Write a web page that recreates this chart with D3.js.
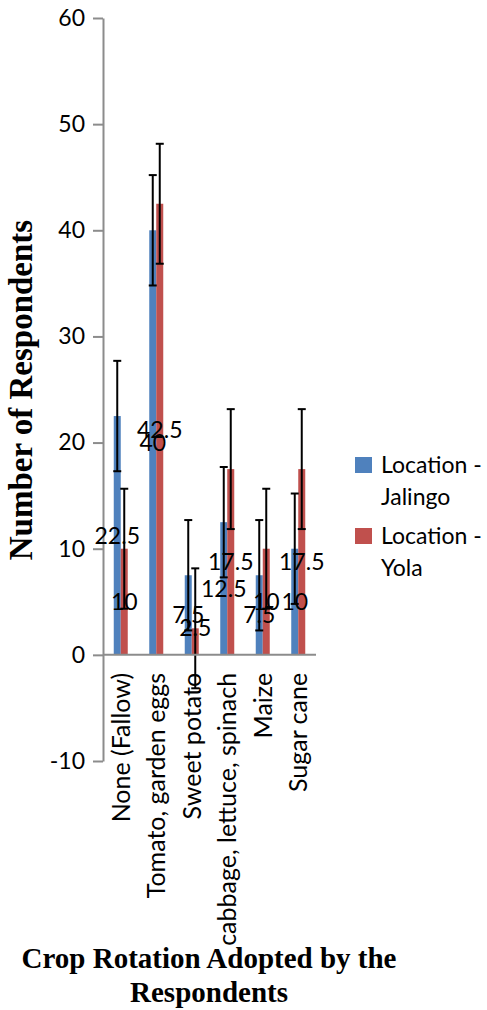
<!DOCTYPE html>
<html>
<head>
<meta charset="utf-8">
<script src="https://cdn.jsdelivr.net/npm/d3@7"></script>
<style>
  body { margin: 0; background: #fff; }
  text { font-family: Lato, "Open Sans", sans-serif; }
</style>
</head>
<body>
<script>
const categories = ["None (Fallow)", "Tomato, garden eggs", "Sweet potato",
  "cabbage, lettuce, spinach", "Maize", "Sugar cane"];
const seriesNames = ["Location - Jalingo", "Location - Yola"];
const jalingo = [22.5, 40, 7.5, 12.5, 7.5, 10];
const yola = [10, 42.5, 2.5, 17.5, 10, 17.5];
const jalingoErr = [5.2, 5.2, 5.2, 5.2, 5.2, 5.2];
const yolaErr = [5.65, 5.65, 5.65, 5.65, 5.65, 5.65];
const yTicks = [-10, 0, 10, 20, 30, 40, 50, 60];
const colors = ["#4F81BD", "#C0504D"];

const totalWidth = 487, totalHeight = 1010;
const plot = { left: 103, right: 316, top: 18, bottom: 761 };

const svg = d3.select("body").append("svg")
  .attr("width", totalWidth)
  .attr("height", totalHeight);

const yScale = d3.scaleLinear().domain([-10, 60]).range([plot.bottom, plot.top]);
const xScale = d3.scaleBand().domain(categories).range([plot.left, plot.right]);
const inner = d3.scaleBand().domain([0, 1])
  .range([xScale.bandwidth() / 2 - 7, xScale.bandwidth() / 2 + 7]);

const rows = categories.map((c, i) => ({
  cat: c,
  vals: [
    { s: 0, v: jalingo[i], e: jalingoErr[i] },
    { s: 1, v: yola[i], e: yolaErr[i] }
  ]
}));

// y axis
const yAxis = svg.append("g")
  .attr("transform", `translate(${plot.left},0)`)
  .call(d3.axisLeft(yScale).tickValues(yTicks).tickFormat(d => String(d))
    .tickSize(10).tickPadding(8).tickSizeOuter(0));
yAxis.select(".domain").attr("stroke", "#8c8c8c").attr("stroke-width", 2);
yAxis.selectAll(".tick line").attr("stroke", "#8c8c8c").attr("stroke-width", 2);
yAxis.selectAll(".tick text").attr("font-size", 23).attr("fill", "#000")
  .style("font-family", "Lato, sans-serif");

// bars
const groups = svg.selectAll(".grp").data(rows).enter().append("g")
  .attr("transform", d => `translate(${xScale(d.cat)},0)`);

groups.selectAll("rect").data(d => d.vals).enter().append("rect")
  .attr("x", d => inner(d.s))
  .attr("y", d => yScale(d.v))
  .attr("width", inner.bandwidth())
  .attr("height", d => yScale(0) - yScale(d.v))
  .attr("fill", d => colors[d.s]);

// x axis line at zero
svg.append("line")
  .attr("x1", plot.left).attr("x2", plot.right)
  .attr("y1", yScale(0)).attr("y2", yScale(0))
  .attr("stroke", "#8c8c8c").attr("stroke-width", 2);

// error bars
const err = groups.selectAll(".err").data(d => d.vals).enter().append("g")
  .attr("stroke", "#000").attr("stroke-width", 2);
const cx = d => inner(d.s) + inner.bandwidth() / 2;
err.append("line")
  .attr("x1", cx).attr("x2", cx)
  .attr("y1", d => yScale(d.v + d.e)).attr("y2", d => yScale(d.v - d.e));
err.append("line")
  .attr("x1", d => cx(d) - 4).attr("x2", d => cx(d) + 4)
  .attr("y1", d => yScale(d.v + d.e)).attr("y2", d => yScale(d.v + d.e));
err.append("line")
  .attr("x1", d => cx(d) - 4).attr("x2", d => cx(d) + 4)
  .attr("y1", d => yScale(d.v - d.e)).attr("y2", d => yScale(d.v - d.e));

// data labels, centred in the bars
groups.selectAll(".lbl").data(d => d.vals).enter().append("text")
  .attr("x", cx)
  .attr("y", d => yScale(Math.max(d.v / 2, 2.6)))
  .attr("dy", "0.36em")
  .attr("text-anchor", "middle")
  .attr("font-size", 23)
  .attr("fill", "#000")
  .text(d => d.v);

// category labels
svg.selectAll(".cat").data(categories).enter().append("text")
  .attr("transform", d => `translate(${xScale(d) + xScale.bandwidth() / 2},${yScale(0) + 18}) rotate(-90)`)
  .attr("dy", "0.36em")
  .attr("text-anchor", "end")
  .attr("font-size", 25)
  .text(d => d);

// axis titles
svg.append("text")
  .attr("transform", `translate(32,390) rotate(-90)`)
  .attr("text-anchor", "middle")
  .style("font-family", "'Liberation Serif', 'Times New Roman', serif")
  .style("font-weight", "bold")
  .attr("font-size", 33)
  .text("Number of Respondents");

const xt = svg.append("text")
  .attr("text-anchor", "middle")
  .style("font-family", "'Liberation Serif', 'Times New Roman', serif")
  .style("font-weight", "bold")
  .attr("font-size", 29);
xt.append("tspan").attr("x", 209).attr("y", 968).text("Crop Rotation Adopted by the");
xt.append("tspan").attr("x", 209).attr("y", 1002).text("Respondents");

// legend
const legend = svg.selectAll(".leg").data(seriesNames).enter().append("g")
  .attr("transform", (d, i) => `translate(355,${457 + i * 71})`);
legend.append("rect").attr("width", 17).attr("height", 16).attr("fill", (d, i) => colors[i]);
const lt = legend.append("text").attr("font-size", 23);
lt.append("tspan").attr("x", 26).attr("y", 16).text(d => d.split(" - ")[0] + " -");
lt.append("tspan").attr("x", 26).attr("y", 48).text(d => d.split(" - ")[1]);
</script>
</body>
</html>
